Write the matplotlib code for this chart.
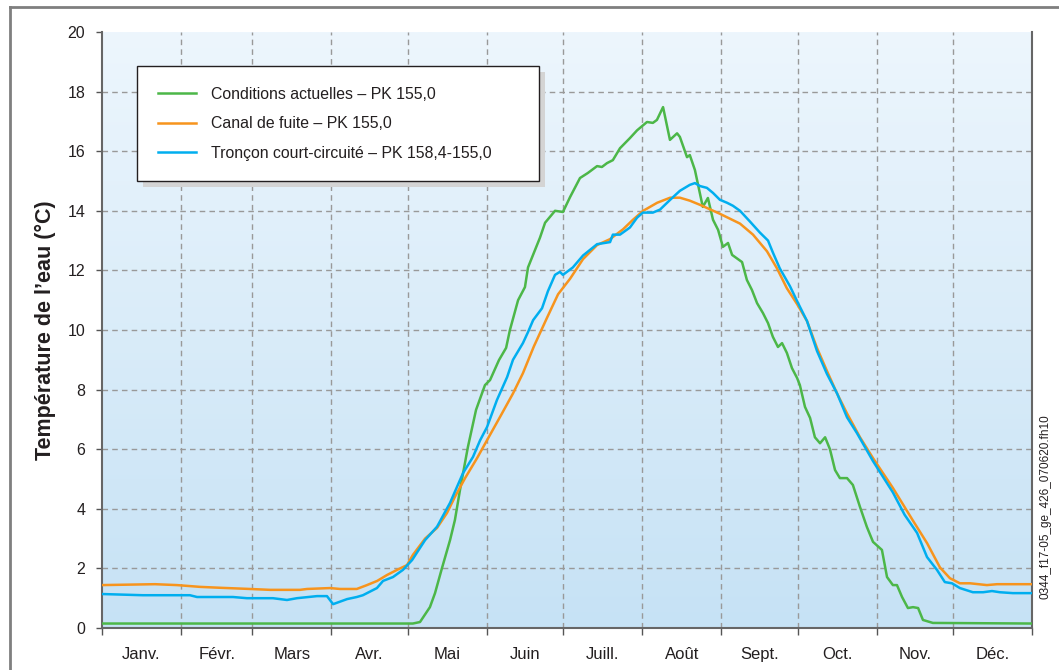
import numpy as np
import matplotlib.pyplot as plt
from matplotlib.colors import LinearSegmentedColormap
from matplotlib.lines import Line2D

plt.rcParams['font.family'] = ['Liberation Sans', 'DejaVu Sans']

months = ["Janv.", "Févr.", "Mars", "Avr.", "Mai", "Juin",
          "Juill.", "Août", "Sept.", "Oct.", "Nov.", "Déc."]
month_starts = [0, 31, 59, 90, 120, 151, 181, 212, 243, 273, 304, 334, 365]
y_ticks = list(range(0, 21, 2))

labels = ["Conditions actuelles – PK 155,0",
          "Canal de fuite – PK 155,0",
          "Tronçon court-circuité – PK 158,4-155,0"]
colors = ["#4cb748", "#f7941d", "#00aeef"]

# Conditions actuelles (day of year, °C)
green_days = [0, 122, 124.8, 128.7, 130.7, 133.4, 136.6, 138.5, 140.5, 143.6,
              146.8, 150.3, 152.3, 155.8, 158.6, 160.1, 163.3, 166, 167.2, 171.9,
              173.9, 177.8, 180.9, 183.7, 187.6, 190.7, 194.3, 196.2, 198.2, 200.5,
              203.3, 207.2, 210, 213.9, 216.2, 217.8, 220.2, 222.9, 225.7, 226.8,
              229.6, 230.7, 232.7, 235.8, 237.8, 239.8, 241.8, 243.7, 245.7, 247.3,
              251.2, 253.1, 255.1, 257.1, 259.4, 261.4, 263.3, 265.3, 266.9, 268.8,
              270.8, 272.8, 273.9, 275.9, 277.9, 279.8, 281.8, 283.8, 285.7, 287.7,
              289.6, 292.4, 294.7, 297.5, 300.2, 302.6, 306.1, 308.1, 310.4, 312,
              314, 316.3, 318.3, 320.3, 322.2, 326.1, 365]
green_vals = [0.15, 0.15, 0.2, 0.7, 1.17, 2.0, 2.95, 3.62, 4.63, 6.07,
              7.32, 8.15, 8.32, 8.99, 9.4, 10.0, 11.0, 11.44, 12.1, 13.1,
              13.6, 14.0, 13.96, 14.46, 15.1, 15.27, 15.5, 15.47, 15.6, 15.7,
              16.1, 16.44, 16.7, 16.98, 16.95, 17.05, 17.48, 16.38, 16.6, 16.48,
              15.8, 15.87, 15.37, 14.13, 14.43, 13.7, 13.36, 12.79, 12.92, 12.52,
              12.28, 11.68, 11.34, 10.9, 10.57, 10.23, 9.77, 9.43, 9.56, 9.23,
              8.72, 8.39, 8.15, 7.42, 7.05, 6.4, 6.2, 6.4, 6.0, 5.3,
              5.03, 5.03, 4.8, 4.06, 3.39, 2.89, 2.62, 1.71, 1.44, 1.44,
              1.04, 0.67, 0.7, 0.67, 0.27, 0.17, 0.15]

# Canal de fuite
orange_days = [0, 20.8, 29.4, 38.5, 46.3, 58, 66, 77.7, 80.5, 89.5,
               93.4, 100, 104, 108, 111.9, 115.8, 119.7, 122, 126.8, 131.5,
               135.4, 138.5, 142.5, 147.2, 151.1, 156.2, 161.3, 165.2, 169.5, 174.6,
               179, 183.7, 188.8, 194.3, 199.4, 204.5, 208.4, 212.4, 217.9, 223,
               226.8, 230.7, 234.7, 242.5, 250.4, 255.5, 261, 264.9, 268.8, 272.8,
               276.7, 280.6, 284.5, 288.5, 292.4, 297.5, 302.6, 310.4, 318.3, 323.8,
               328.9, 332.8, 336.7, 340.7, 347.3, 351.3, 365]
orange_vals = [1.44, 1.47, 1.44, 1.38, 1.35, 1.31, 1.28, 1.28, 1.31, 1.34,
               1.31, 1.31, 1.44, 1.58, 1.78, 1.95, 2.11, 2.45, 3.0, 3.36,
               3.86, 4.4, 5.03, 5.7, 6.3, 7.08, 7.87, 8.55, 9.45, 10.4,
               11.2, 11.72, 12.38, 12.85, 13.05, 13.38, 13.7, 14.0, 14.27, 14.44,
               14.44, 14.34, 14.2, 13.9, 13.57, 13.2, 12.64, 12.07, 11.4, 10.87,
               10.3, 9.4, 8.63, 7.87, 7.2, 6.4, 5.7, 4.7, 3.6, 2.85,
               2.03, 1.67, 1.5, 1.5, 1.44, 1.47, 1.47]

# Tronçon court-circuité
blue_days = [0, 16, 34.5, 37.3, 51.4, 56.9, 67.1, 72.6, 76.5, 84.4,
             88.3, 90.7, 96.2, 100, 102.4, 107.9, 110.3, 114.2, 118.1, 121.7,
             126.8, 131.5, 136.6, 139.3, 141.7, 145.6, 148.4, 151.1, 155, 159,
             161.3, 165.2, 167.2, 169.2, 172.7, 175, 177.8, 179.7, 180.9, 184.8,
             188.8, 194.3, 199.4, 200.5, 203.3, 207.2, 210, 212.3, 216.2, 219,
             223, 226.8, 230.7, 232.7, 234.7, 237.4, 239.8, 242.5, 245.3, 247.6,
             250.4, 254.3, 258.2, 261.4, 263.3, 266, 270, 272.8, 276.7, 280.6,
             284.5, 288.5, 292.4, 296.3, 302.6, 310.4, 315, 319.9, 323.8, 327.7,
             330.8, 333.6, 336.7, 341.8, 345.8, 349.3, 352.4, 357.5, 365]
blue_vals = [1.14, 1.1, 1.1, 1.04, 1.04, 1.0, 1.0, 0.94, 1.0, 1.07,
             1.07, 0.8, 0.97, 1.04, 1.1, 1.34, 1.58, 1.71, 1.95, 2.28,
             2.95, 3.4, 4.2, 4.73, 5.2, 5.74, 6.3, 6.74, 7.65, 8.42,
             9.0, 9.56, 9.93, 10.33, 10.73, 11.3, 11.85, 11.95, 11.85, 12.1,
             12.5, 12.88, 12.95, 13.2, 13.2, 13.44, 13.77, 13.94, 13.94, 14.04,
             14.37, 14.67, 14.87, 14.93, 14.83, 14.77, 14.6, 14.37, 14.27, 14.17,
             14.0, 13.64, 13.27, 13.0, 12.6, 12.07, 11.47, 10.97, 10.3, 9.3,
             8.53, 7.87, 7.07, 6.54, 5.6, 4.55, 3.8, 3.19, 2.38, 1.95,
             1.54, 1.5, 1.34, 1.2, 1.2, 1.24, 1.2, 1.17, 1.17]

series = [(green_days, green_vals), (orange_days, orange_vals), (blue_days, blue_vals)]

fig = plt.figure(figsize=(10.59, 6.7), dpi=100)
ax = fig.add_axes([102 / 1059, 1 - 628 / 670, 930 / 1059, 596 / 670])

# background gradient, light at top, blue at bottom
bg = LinearSegmentedColormap.from_list("bg", ["#c6e2f5", "#edf6fd"])
grad = np.linspace(0, 1, 256).reshape(-1, 1)
ax.imshow(grad, extent=[0, 365, 0, 20], origin="lower", aspect="auto",
          cmap=bg, zorder=0)

# dashed grid
dash = (0, (4, 3))
ax.hlines(y_ticks[1:-1], 0, 365, colors="#999999", linestyles=dash, lw=1, zorder=1)
ax.vlines(month_starts[1:-1], 0, 20, colors="#999999", linestyles=dash, lw=1, zorder=1)

for (d, v), c, lab in zip(series, colors, labels):
    ax.plot(d, v, color=c, lw=1.8, label=lab, zorder=3)

ax.set_xlim(0, 365)
ax.set_ylim(0, 20)

ax.set_yticks(y_ticks)
ax.tick_params(axis="y", direction="out", length=4, width=1, color="#555555",
               labelsize=11.5, pad=8, labelcolor="#231f20")

ax.set_xticks(month_starts)
ax.set_xticklabels([])
mids = [(a + b) / 2 for a, b in zip(month_starts[:-1], month_starts[1:])]
ax.set_xticks(mids, minor=True)
ax.set_xticklabels(months, minor=True)
ax.tick_params(axis="x", which="major", direction="out", length=5, width=1, color="#555555")
ax.tick_params(axis="x", which="minor", length=0, labelsize=12, pad=14, labelcolor="#231f20")

for s in ["left", "bottom", "right"]:
    ax.spines[s].set_color("#666666")
    ax.spines[s].set_linewidth(1.5)
ax.spines["top"].set_visible(False)

leg = ax.legend(loc="upper left", bbox_to_anchor=(0.0376, 0.0, 0.4323, 0.943),
                mode="expand", borderaxespad=0, fontsize=11.4, frameon=True,
                fancybox=False, edgecolor="#231f20", framealpha=1,
                borderpad=1.3, labelspacing=0.92, handlelength=2.4,
                handletextpad=0.95,
                shadow={"ox": 4, "oy": -4, "facecolor": "#d4d4d4",
                        "edgecolor": "none", "alpha": 1})
leg.get_frame().set_linewidth(1.0)
for t in leg.get_texts():
    t.set_color("#231f20")

fig.text(45 / 1059, 1 - 330 / 670, "Température de l’eau (°C)", rotation=90,
         ha="center", va="center", fontsize=15.5, fontweight="bold", color="#231f20")
fig.text(1045 / 1059, 1 - 507 / 670, "0344_f17-05_ge_426_070620.fh10", rotation=90,
         ha="center", va="center", fontsize=8.5, color="#231f20")

# frame around the figure (left and top edges visible)
fig.add_artist(Line2D([10 / 1059, 10 / 1059], [0, 1 - 7 / 670], transform=fig.transFigure,
                      color="#7f7f7f", lw=2))
fig.add_artist(Line2D([10 / 1059, 1], [1 - 7 / 670, 1 - 7 / 670], transform=fig.transFigure,
                      color="#7f7f7f", lw=2))

fig.savefig("out.png", dpi=100)
plt.close()
